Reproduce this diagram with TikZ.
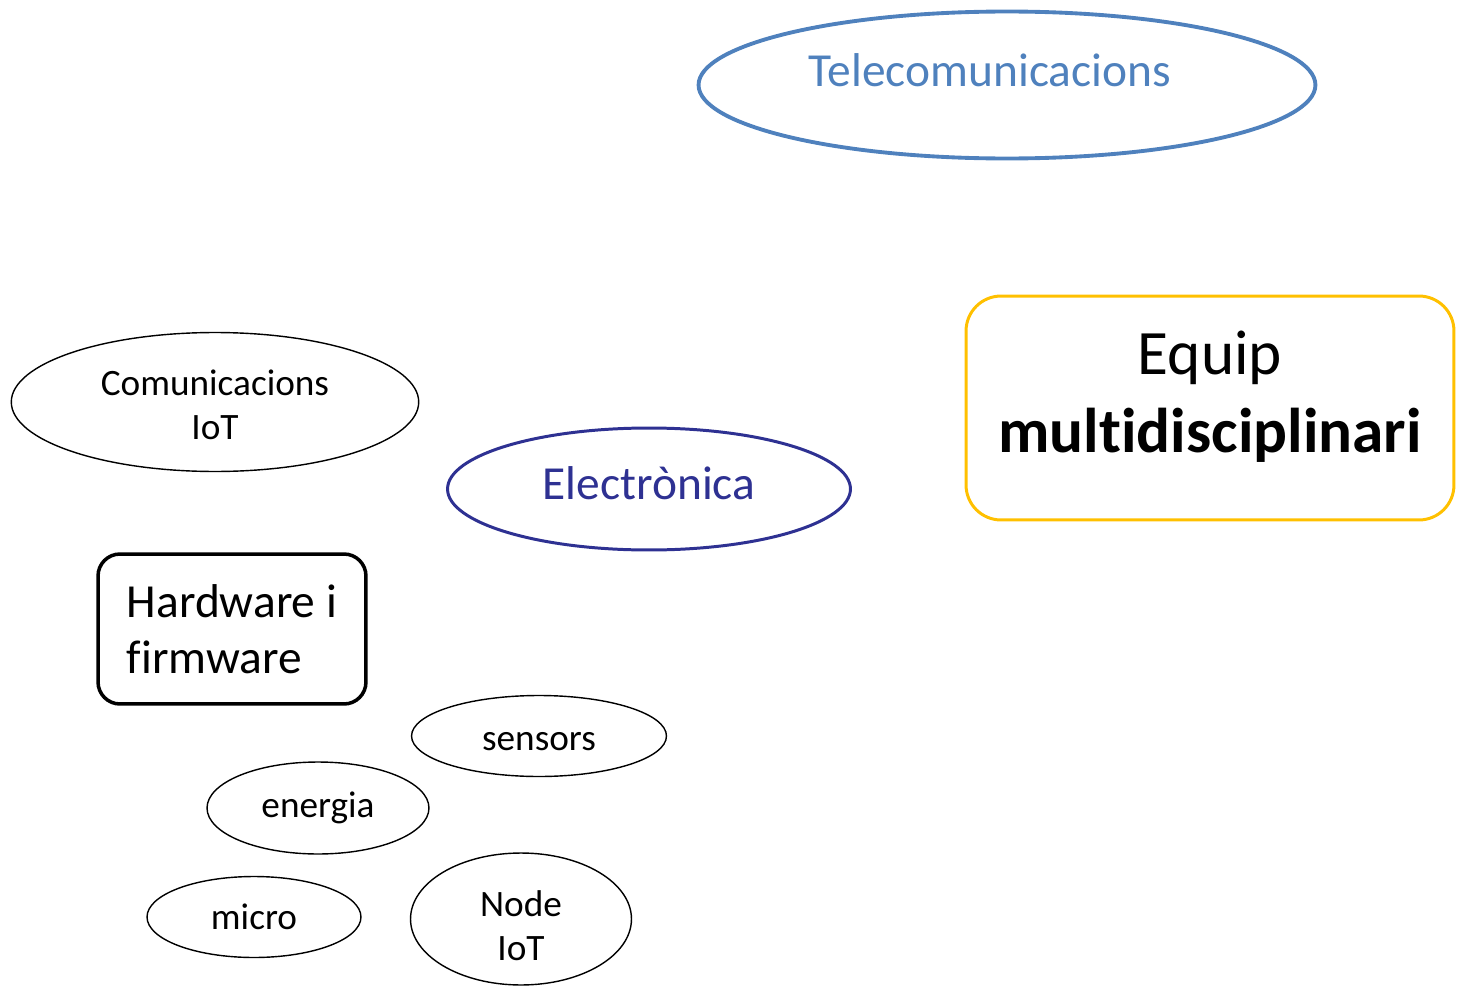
\documentclass[tikz,border=0pt]{standalone}
\usepackage{fontspec}
\setmainfont{Carlito}[Ligatures=CommonOff]
\usetikzlibrary{shapes.geometric}
\definecolor{teleblue}{HTML}{4F81BD}
\definecolor{elecblue}{HTML}{2E3192}
\definecolor{gold}{HTML}{FFC000}
\tikzstyle{bubble} = [draw, ellipse, inner sep=0pt, align=center, line width=0.8pt, font=\fontsize{21.2}{25.4}\selectfont]
\tikzstyle{bigbubble} = [draw, ellipse, inner sep=0pt, align=center, font=\fontsize{27}{32}\selectfont]
\tikzstyle{roundbox} = [draw, rectangle, inner sep=0pt]

\begin{document}
\begin{tikzpicture}[x=0.02cm, y=-0.02cm]
	\useasboundingbox (0,0) rectangle (1458,987);

	\node[bigbubble, draw=teleblue, line width=2.2pt, minimum width=12.34cm, minimum height=2.94cm](tele) at (1007,85){};
	\node[anchor=base, text=teleblue, font=\fontsize{27}{32}\selectfont](teletext) at (990,86){Telecomunicacions};

	\node[roundbox, draw=gold, line width=1.7pt, rounded corners=0.7cm, align=center, minimum width=9.76cm, minimum height=4.48cm, text height=59.2pt, text depth=8pt, font=\fontsize{36}{44.4}\selectfont](equip) at (1210,408){Equip\\\textbf{multidisciplinari}};

	\node[bigbubble, draw=elecblue, text=elecblue, line width=1.7pt, minimum width=8.06cm, minimum height=2.44cm, text height=12pt, text depth=0pt](elec) at (649,489){Electrònica};

	\node[bubble, minimum width=8.15cm, minimum height=2.78cm, text height=43.2pt, text depth=0pt](comiot) at (215,402){Comunicacions\\IoT};

	\node[roundbox, line width=2pt, rounded corners=0.44cm, align=left, minimum width=5.36cm, minimum height=3cm, font=\fontsize{27}{32}\selectfont](hwfw) at (232,629){Hardware i\\firmware};

	\node[bubble, minimum width=5.1cm, minimum height=1.62cm, text height=17pt, text depth=0pt](sensors) at (539,736){sensors};
	\node[bubble, minimum width=4.44cm, minimum height=1.84cm](energia) at (318,808){energia};
	\node[bubble, minimum width=4.28cm, minimum height=1.62cm](micro) at (254,917){micro};
	\node[bubble, minimum width=4.42cm, minimum height=2.64cm, text height=47.8pt, text depth=0pt](nodeiot) at (521,919){Node\\IoT};
\end{tikzpicture}
\end{document}
